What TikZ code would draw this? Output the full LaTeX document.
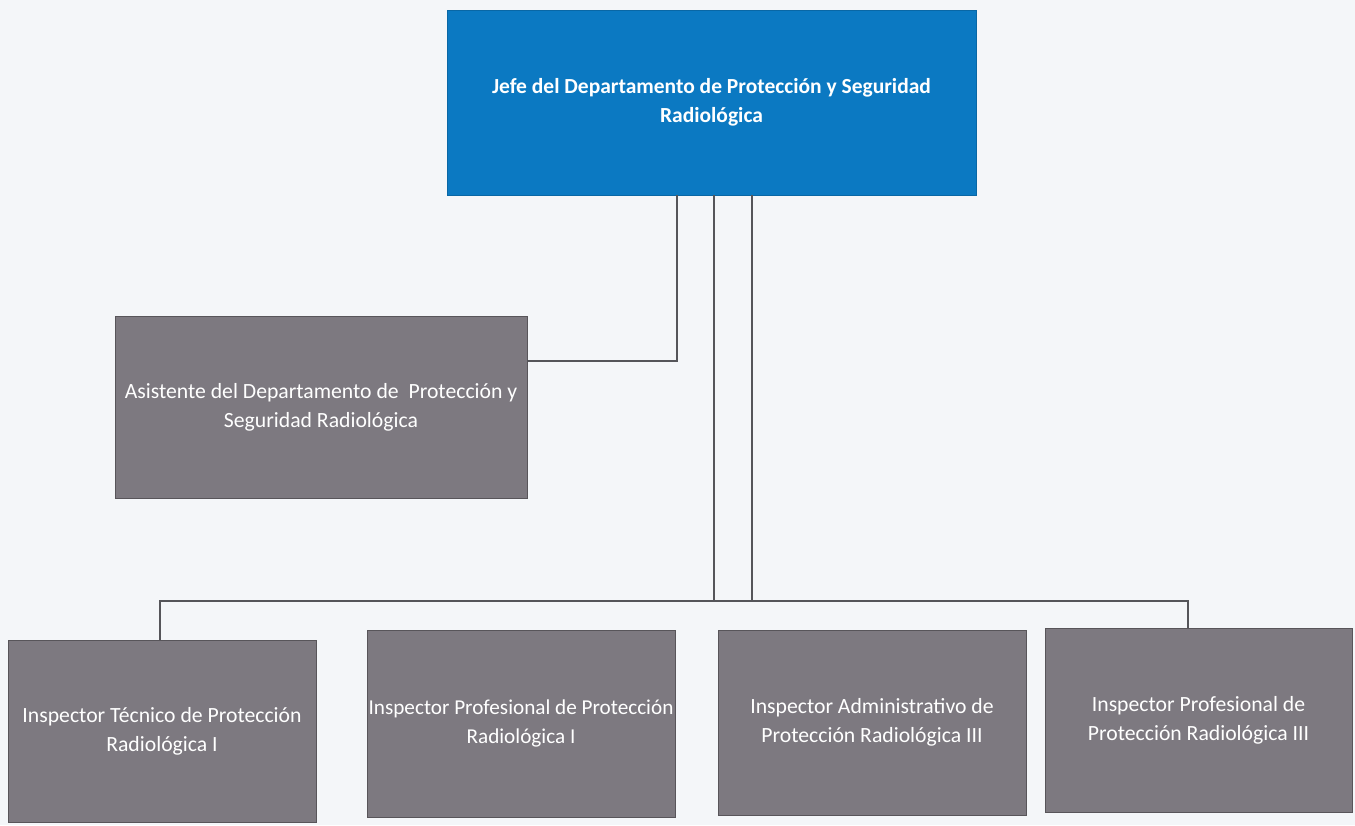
\documentclass[tikz,border=0pt]{standalone}
\usepackage{fontspec}
\setmainfont{Carlito}
\usetikzlibrary{positioning}

\definecolor{jefeblue}{HTML}{0B79C2}
\definecolor{cargogray}{HTML}{7D7980}
\definecolor{linegray}{HTML}{55555A}
\definecolor{paper}{HTML}{F4F6F9}

\tikzset{
    cargo/.style={rectangle, fill=cargogray, draw=cargogray!70!black, line width=0.8bp,
        text=white, align=center, inner sep=0pt, font=\fontsize{21.7bp}{29bp}\selectfont},
    jefebox/.style={rectangle, fill=jefeblue, draw=jefeblue!85!black, line width=0.8bp,
        text=white, align=center, inner sep=0pt, font=\fontsize{21.5bp}{29bp}\selectfont\bfseries},
    conn/.style={draw=linegray, line width=1.4bp}
}

\begin{document}
\begin{tikzpicture}[x=1bp, y=-1bp]
        \fill[paper] (0,0) rectangle (1355,825); %papier
        \useasboundingbox (0,0) rectangle (1355,825);

        \node[jefebox, minimum width=529bp, minimum height=185bp] (jefe) at (711.5,102.5)
            {Jefe del Departamento de Protección y Seguridad\\Radiológica};
        \node[cargo, minimum width=412bp, minimum height=182bp] (asis) at (321,407)
            {Asistente del Departamento de~ Protección y\\Seguridad Radiológica};

        % --------------------------------------------------

        \node[cargo, minimum width=308bp, minimum height=182bp] (insA) at (162,731)
            {Inspector Técnico de Protección\\Radiológica I};
        \node[cargo, minimum width=308bp, minimum height=187bp,
            font=\fontsize{21.2bp}{29bp}\selectfont] (insB) at (521,723.5)
            {Inspector Profesional de Protección\\Radiológica I};
        \node[cargo, minimum width=308bp, minimum height=185bp] (insC) at (872,722.5)
            {Inspector Administrativo de\\Protección Radiológica III};
        \node[cargo, minimum width=307bp, minimum height=184bp] (insD) at (1198.5,720)
            {Inspector Profesional de\\Protección Radiológica III};

        % --------------------------------------------------

        \coordinate (busL) at (160,601);
        \coordinate (busR) at (1188,601);
        \draw[conn] ([xshift=-34.5bp]jefe.south) |- ([yshift=46bp]asis.east); %asistente
        \draw[conn] ([xshift=2.5bp]jefe.south) -- ([xshift=2.5bp]jefe.south |- busL);
        \draw[conn] ([xshift=40.5bp]jefe.south) -- ([xshift=40.5bp]jefe.south |- busL);
        \draw[conn] (busL |- insA.north) -- (busL) -- (busR) -- (busR |- insD.north); %bus
\end{tikzpicture}
\end{document}
